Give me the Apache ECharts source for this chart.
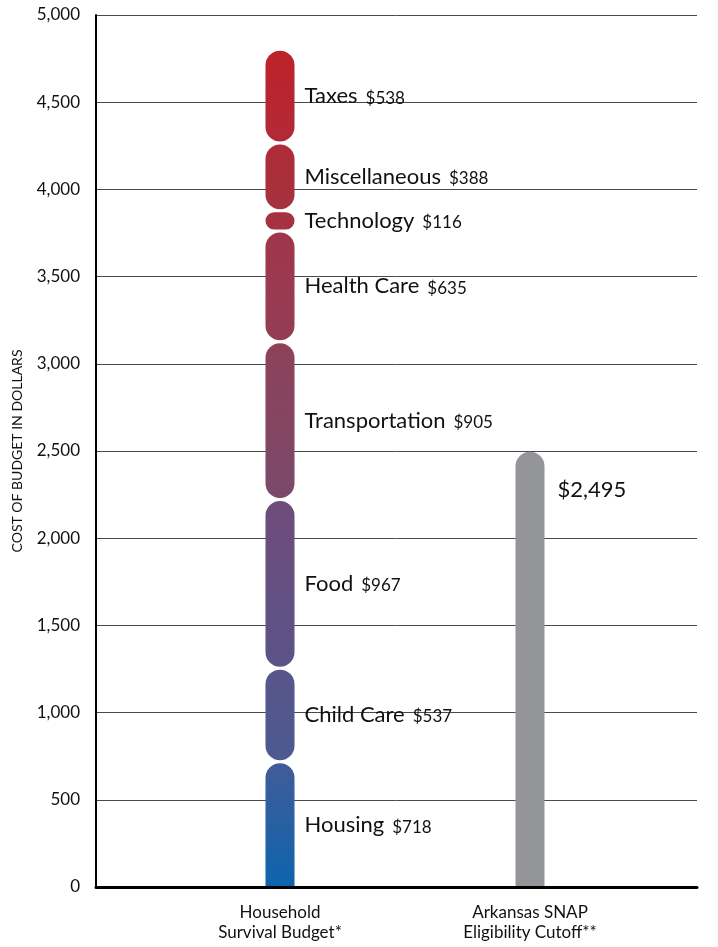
<!DOCTYPE html>
<html>
<head>
<meta charset="utf-8">
<script src="https://cdn.jsdelivr.net/npm/echarts@6/dist/echarts.min.js"></script>
<style>
  html, body { margin: 0; padding: 0; background: #fff; }
  #chart { width: 718px; height: 947px; }
</style>
</head>
<body>
<div id="chart"></div>
<script>
// Budget categories, stacked bottom to top
const categories = ['Household\nSurvival Budget*', 'Arkansas SNAP\nEligibility Cutoff**'];
const budgetItems = ['Housing', 'Child Care', 'Food', 'Transportation', 'Health Care', 'Technology', 'Miscellaneous', 'Taxes'];
const budgetValues = [718, 537, 967, 905, 635, 116, 388, 538];
const snapCutoff = 2495;
const yTicks = { min: 0, max: 5000, interval: 500 };

// segment shading, top colour then bottom colour
const segmentColors = [
  ['#425c98', '#0c64ae'],
  ['#5a5589', '#4b5a90'],
  ['#6f4c7b', '#5b5388'],
  ['#8e4159', '#7a4a6b'],
  ['#a0354a', '#943d56'],
  ['#a53240', '#a33242'],
  ['#ad2c38', '#a5313f'],
  ['#bd2229', '#b22a37']
];

const fmt = v => '$' + v.toLocaleString('en-US');
const FONT = 'Lato';
const BAR_W = 29;
const HALF_GAP = 1.5;

// cumulative stack ranges [category, start, end, itemIndex]
const segments = [];
let running = 0;
budgetValues.forEach((v, i) => {
  segments.push([0, running, running + v, i]);
  running += v;
});

function renderSegment(params, api) {
  const cat = api.value(0);
  const start = api.value(1);
  const end = api.value(2);
  const idx = api.value(3);
  const cx = api.coord([cat, start])[0];
  const yBottom = api.coord([cat, start])[1];
  const yTop = api.coord([cat, end])[1];
  const isBase = start === 0;
  const bottom = isBase ? yBottom : yBottom - HALF_GAP;
  const top = yTop + HALF_GAP;
  const h = bottom - top;
  const r = Math.min(BAR_W / 2, h / 2);
  return {
    type: 'group',
    children: [
      {
        type: 'rect',
        shape: {
          x: cx - BAR_W / 2, y: top, width: BAR_W, height: h,
          r: isBase ? [r, r, 0, 0] : r
        },
        style: {
          fill: new echarts.graphic.LinearGradient(0, 0, 0, 1, [
            { offset: 0, color: segmentColors[idx][0] },
            { offset: 1, color: segmentColors[idx][1] }
          ])
        }
      },
      {
        type: 'text',
        style: {
          x: cx + BAR_W / 2 + 10,
          y: (top + bottom) / 2,
          text: '{n|' + budgetItems[idx] + '}{v|' + fmt(budgetValues[idx]) + '}',
          verticalAlign: 'middle',
          align: 'left',
          rich: {
            n: { fontFamily: FONT, fontSize: 22, fill: '#111', color: '#111' },
            v: { fontFamily: FONT, fontSize: 17, fill: '#111', color: '#111', padding: [4, 0, 0, 8] }
          }
        }
      }
    ]
  };
}

const chart = echarts.init(document.getElementById('chart'));

chart.setOption({
  animation: false,
  backgroundColor: '#ffffff',
  grid: [
    { left: 96, right: 21, top: 15, bottom: 60 },
    { left: 155, right: 63, top: 15, bottom: 60 }
  ],
  xAxis: [
    {
      gridIndex: 0,
      type: 'value',
      min: 0,
      max: 1,
      z: 10,
      axisLine: { show: true, onZero: false, lineStyle: { color: '#000', width: 3 } },
      axisTick: { show: false },
      axisLabel: { show: false },
      splitLine: { show: false }
    },
    {
      gridIndex: 1,
      type: 'category',
      data: categories,
      axisLine: { show: false },
      axisTick: { show: false },
      axisLabel: {
        margin: 16,
        fontFamily: FONT,
        fontSize: 17,
        lineHeight: 20,
        color: '#111'
      }
    }
  ],
  yAxis: [
    {
      gridIndex: 0,
      type: 'value',
      min: yTicks.min,
      max: yTicks.max,
      interval: yTicks.interval,
      name: 'COST OF BUDGET IN DOLLARS',
      nameLocation: 'middle',
      nameGap: 72,
      nameRotate: 90,
      nameTextStyle: { fontFamily: FONT, fontSize: 14, color: '#111' },
      axisLine: { show: true, lineStyle: { color: '#000', width: 2 } },
      axisTick: { show: false },
      axisLabel: {
        margin: 16,
        fontFamily: FONT,
        fontSize: 17,
        color: '#111',
        formatter: v => v.toLocaleString('en-US')
      },
      splitLine: { show: true, lineStyle: { color: '#4a4a4a', width: 1 } }
    },
    {
      gridIndex: 1,
      type: 'value',
      min: yTicks.min,
      max: yTicks.max,
      interval: yTicks.interval,
      show: false
    }
  ],
  series: [
    {
      name: 'Household Survival Budget',
      type: 'custom',
      xAxisIndex: 1,
      yAxisIndex: 1,
      renderItem: renderSegment,
      encode: { x: 0, y: [1, 2] },
      data: segments
    },
    {
      name: 'Arkansas SNAP Eligibility Cutoff',
      type: 'bar',
      xAxisIndex: 1,
      yAxisIndex: 1,
      barWidth: BAR_W,
      data: ['-', snapCutoff],
      itemStyle: {
        color: '#939598',
        borderRadius: [BAR_W / 2, BAR_W / 2, 0, 0]
      },
      label: {
        show: true,
        position: [42, 38],
        verticalAlign: 'middle',
        formatter: p => fmt(p.value),
        fontFamily: FONT,
        fontSize: 22,
        color: '#111'
      }
    }
  ]
});
</script>
</body>
</html>
